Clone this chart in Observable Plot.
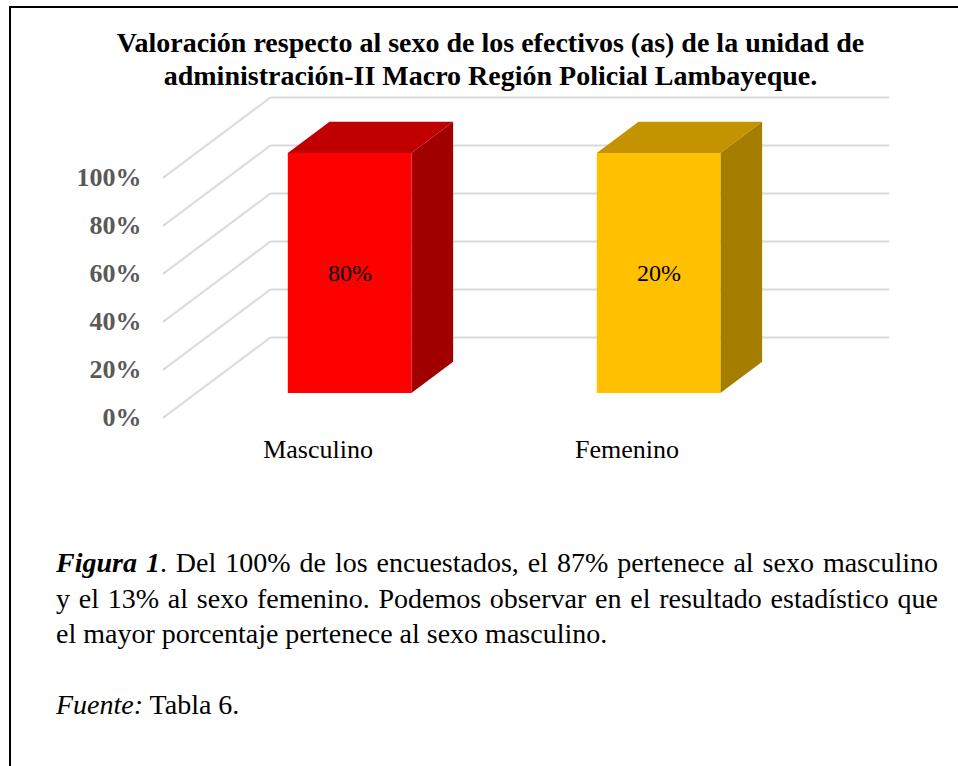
<!DOCTYPE html>
<html><head><meta charset="utf-8">
<script src="https://cdn.jsdelivr.net/npm/d3@7"></script>
<script src="https://cdn.jsdelivr.net/npm/@observablehq/plot@0.6"></script>
<style>
html,body{margin:0;padding:0;background:#fff;}
#page{position:relative;width:958px;height:766px;overflow:hidden;font-family:"Liberation Serif","Times New Roman",serif;background:#fff;}
#frame{position:absolute;left:9px;top:6px;width:1000px;height:800px;border-top:2.5px solid #000;border-left:2.5px solid #000;}
#title{position:absolute;left:0;width:981px;top:26px;text-align:center;font-weight:bold;font-size:28px;line-height:33px;color:#000;}
#chart{position:absolute;left:0;top:90px;}
#caption{position:absolute;left:56px;width:882px;top:545px;font-size:28px;line-height:35.5px;color:#000;}
#caption .j{text-align:justify;text-align-last:justify;white-space:nowrap;}
</style></head>
<body>
<div id="page">
  <div id="frame"></div>
  <div id="title">Valoración respecto al sexo de los efectivos (as) de la unidad de<br>administración-II Macro Región Policial Lambayeque.</div>
  <div id="chart"></div>
  <div id="caption">
    <div class="j"><b><i>Figura 1</i></b>. Del 100% de los encuestados, el 87% pertenece al sexo masculino</div>
    <div class="j">y el 13% al sexo femenino. Podemos observar en el resultado estadístico que</div>
    <div>el mayor porcentaje pertenece al sexo masculino.</div>
    <div style="margin-top:35.5px"><i>Fuente:</i> Tabla 6.</div>
  </div>
</div>
<script>
// ---- data ----
const categories = ["Masculino", "Femenino"];
const values = [100, 100];            // bar heights as drawn (percent)
const valueLabels = ["80%", "20%"];   // data labels shown on bars
const yTicks = [0, 20, 40, 60, 80, 100];

// ---- styles ----
const frontColors = ["#FF0000", "#FFC000"];
const topColors = ["#C00000", "#C39300"];
const sideColors = ["#A00000", "#A57D00"];
const serif = "'Liberation Serif','Times New Roman',serif";

// ---- oblique 3D projection in data units ----
const Kx = 107 / 309;   // depth shift in category units
const Ky = 80 / 2.4;    // depth shift in percent units
const d0 = 0.3, dd = 0.39, bw = 0.4;

const bars = categories.map((c, i) => {
  const uc = i + 0.5;
  const xl = uc - bw / 2 + d0 * Kx, xr = uc + bw / 2 + d0 * Kx;
  const yb = d0 * Ky, yt = values[i] + d0 * Ky;
  return {c, i, xl, xr, yb, yt};
});

const grid = yTicks.flatMap(v => [
  {v, x: 0, y: v},
  {v, x: Kx, y: v + Ky},
  {v, x: categories.length + Kx, y: v + Ky}
]);

const barMarks = bars.flatMap(b => [
  Plot.areaY([
    {x: b.xr, y1: b.yb, y2: b.yt},
    {x: b.xr + dd * Kx, y1: b.yb + dd * Ky, y2: b.yt + dd * Ky}
  ], {x: "x", y1: "y1", y2: "y2", fill: sideColors[b.i], curve: "linear"}),
  Plot.areaX([
    {y: b.yt, x1: b.xl, x2: b.xr},
    {y: b.yt + dd * Ky, x1: b.xl + dd * Kx, x2: b.xr + dd * Kx}
  ], {y: "y", x1: "x1", x2: "x2", fill: topColors[b.i], curve: "linear"}),
  Plot.rect([b], {x1: "xl", x2: "xr", y1: "yb", y2: "yt", fill: frontColors[b.i]})
]);

const chart = Plot.plot({
  width: 958,
  height: 380,
  x: {domain: [0, categories.length], range: [163, 781], axis: null},
  y: {domain: [0, 100], range: [327, 87], axis: null},
  style: {fontFamily: serif, background: "transparent", overflow: "visible"},
  marks: [
    Plot.line(grid, {x: "x", y: "y", z: "v", stroke: "#D9D9D9", strokeWidth: 2}),
    ...barMarks,
    Plot.text(yTicks, {x: () => 0, y: d => d, text: d => d + "%", dx: -22, textAnchor: "end",
      fontSize: 26, fontWeight: "bold", fill: "#595959", fontFamily: serif}),
    Plot.text(categories, {x: (d, i) => i + 0.5, y: () => 0, text: d => d, dy: 32,
      fontSize: 26, fill: "#000", fontFamily: serif}),
    Plot.text(bars, {x: b => (b.xl + b.xr) / 2, y: b => (b.yb + b.yt) / 2, text: b => valueLabels[b.i],
      fontSize: 24, fill: "#000", fontFamily: serif})
  ]
});
document.getElementById("chart").appendChild(chart);
</script>
</body></html>
